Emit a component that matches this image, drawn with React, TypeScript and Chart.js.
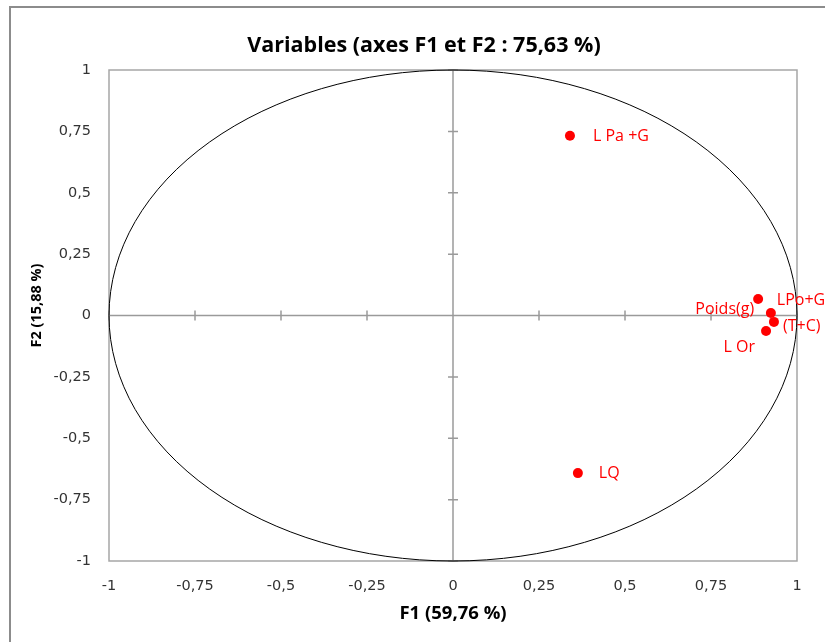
import { useEffect, useRef } from 'react';
import { Chart, registerables } from 'chart.js';

Chart.register(...registerables);

// ---- data ----
const variables = ['L Pa +G', 'LQ', 'Poids(g)', 'LPo+G', '(T+C)', 'L Or'];
const f1Values = [0.340, 0.363, 0.887, 0.924, 0.933, 0.910];
const f2Values = [0.732, -0.642, 0.067, 0.010, -0.026, -0.063];
const axisTicks = [-1, -0.75, -0.5, -0.25, 0, 0.25, 0.5, 0.75, 1];
const chartTitle = 'Variables (axes F1 et F2 : 75,63 %)';
const xTitle = 'F1 (59,76 %)';
const yTitle = 'F2 (15,88 %)';

// ---- label placement (style) ----
const labelPlacement: { dx: number; dy: number; align: CanvasTextAlign }[] = [
  { dx: 23, dy: 1, align: 'left' },
  { dx: 21, dy: 0, align: 'left' },
  { dx: -4, dy: 10, align: 'right' },
  { dx: 6, dy: -13, align: 'left' },
  { dx: 9, dy: 5, align: 'left' },
  { dx: -11, dy: 16, align: 'right' },
];

const fmt = (v: number) => String(v).replace('.', ',');

const decorPlugin = {
  id: 'decor',
  beforeDatasetsDraw(chart: any) {
    const { ctx, chartArea } = chart;
    const xs = chart.scales.x;
    const ys = chart.scales.y;
    ctx.save();
    // outer frame (top & left visible)
    ctx.strokeStyle = '#8c8c8c';
    ctx.lineWidth = 2;
    ctx.beginPath();
    ctx.moveTo(10, 900);
    ctx.lineTo(10, 7);
    ctx.lineTo(900, 7);
    ctx.stroke();
    // plot border
    ctx.strokeStyle = '#a6a6a6';
    ctx.lineWidth = 1.5;
    ctx.strokeRect(chartArea.left, chartArea.top, chartArea.right - chartArea.left, chartArea.bottom - chartArea.top);
    // cross axes
    const x0 = xs.getPixelForValue(0);
    const y0 = ys.getPixelForValue(0);
    ctx.strokeStyle = '#9a9a9a';
    ctx.lineWidth = 1.5;
    ctx.beginPath();
    ctx.moveTo(chartArea.left, y0);
    ctx.lineTo(chartArea.right, y0);
    ctx.moveTo(x0, chartArea.top);
    ctx.lineTo(x0, chartArea.bottom);
    // tick marks on the cross
    axisTicks.forEach((t) => {
      const px = xs.getPixelForValue(t);
      ctx.moveTo(px, y0 - 5);
      ctx.lineTo(px, y0 + 5);
      const py = ys.getPixelForValue(t);
      ctx.moveTo(x0 - 5, py);
      ctx.lineTo(x0 + 5, py);
    });
    ctx.stroke();
    // correlation circle
    const rx = xs.getPixelForValue(1) - x0;
    const ry = y0 - ys.getPixelForValue(1);
    ctx.strokeStyle = '#000000';
    ctx.lineWidth = 1;
    ctx.beginPath();
    ctx.ellipse(x0, y0, rx, ry, 0, 0, Math.PI * 2);
    ctx.stroke();
    ctx.restore();
  },
  afterDatasetsDraw(chart: any) {
    const { ctx, chartArea } = chart;
    const meta = chart.getDatasetMeta(0);
    ctx.save();
    ctx.fillStyle = '#ff0000';
    ctx.font = '16px "Open Sans"';
    ctx.textBaseline = 'middle';
    meta.data.forEach((pt: any, i: number) => {
      const p = labelPlacement[i];
      ctx.textAlign = p.align;
      ctx.fillText(variables[i], pt.x + p.dx, pt.y + p.dy);
    });
    // main title
    ctx.fillStyle = '#000000';
    ctx.font = 'bold 21.5px "Open Sans"';
    ctx.textAlign = 'center';
    ctx.textBaseline = 'alphabetic';
    ctx.fillText(chartTitle, 424, 52);
    // y axis title (rotated)
    ctx.font = 'bold 14.5px "Open Sans"';
    ctx.translate(37, (chartArea.top + chartArea.bottom) / 2 - 10);
    ctx.rotate(-Math.PI / 2);
    ctx.textBaseline = 'middle';
    ctx.fillText(yTitle, 0, 0);
    ctx.restore();
  },
};

export default function App() {
  const ref = useRef<HTMLCanvasElement>(null);
  useEffect(() => {
    if (!ref.current) return;
    const chart = new Chart(ref.current, {
      type: 'scatter',
      data: {
        datasets: [
          {
            data: variables.map((_, i) => ({ x: f1Values[i], y: f2Values[i] })),
            backgroundColor: '#ff0000',
            borderColor: '#ff0000',
            pointRadius: 5,
            pointHoverRadius: 5,
            borderWidth: 0,
          },
        ],
      },
      options: {
        animation: false,
        responsive: false,
        devicePixelRatio: 1,
        layout: { padding: { left: 10, top: 70, right: 28, bottom: 0 } },
        plugins: { legend: { display: false }, tooltip: { enabled: false }, title: { display: false } },
        scales: {
          x: {
            type: 'linear',
            min: -1,
            max: 1,
            afterBuildTicks: (s: any) => { s.ticks = axisTicks.map((v) => ({ value: v })); },
            afterFit: (s: any) => { s.height = 81; },
            grid: { display: false, drawTicks: false },
            border: { display: false },
            ticks: {
              padding: 17,
              color: '#333333',
              font: { family: 'DejaVu Sans', size: 14.5 },
              callback: (v: any) => fmt(Number(v)),
            },
            title: {
              display: true,
              text: xTitle,
              color: '#000000',
              font: { family: 'Open Sans', size: 18.5, weight: 'bold' },
              padding: { top: 0, bottom: 17 },
            },
          },
          y: {
            type: 'linear',
            min: -1,
            max: 1,
            afterBuildTicks: (s: any) => { s.ticks = axisTicks.map((v) => ({ value: v })); },
            afterFit: (s: any) => { s.width = 99; },
            grid: { display: false, drawTicks: false },
            border: { display: false },
            ticks: {
              padding: 18,
              color: '#333333',
              font: { family: 'DejaVu Sans', size: 14.5 },
              callback: (v: any) => fmt(Number(v)),
            },
            title: { display: false },
          },
        },
      },
      plugins: [decorPlugin],
    });
    return () => chart.destroy();
  }, []);
  return (
    <div style={{ position: 'fixed', left: 0, top: 0, width: 825, height: 642, background: '#ffffff' }}>
      <canvas ref={ref} width={825} height={642} style={{ display: 'block' }} />
    </div>
  );
}
